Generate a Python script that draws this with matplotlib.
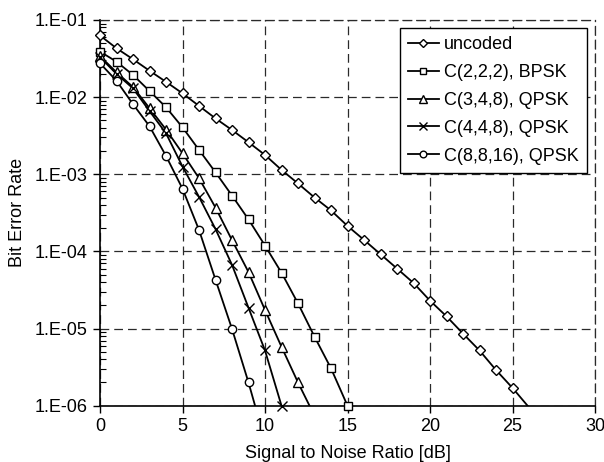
import numpy as np
import matplotlib
matplotlib.use("Agg")
import matplotlib.pyplot as plt
from matplotlib.lines import Line2D
from matplotlib.ticker import FixedLocator, FuncFormatter, NullFormatter

# ---- data ----
snr_uncoded = list(range(0, 27))
ber_uncoded = [6.3e-2, 4.3e-2, 3.1e-2, 2.2e-2, 1.58e-2, 1.12e-2, 7.7e-3, 5.3e-3,
               3.75e-3, 2.6e-3, 1.78e-3, 1.14e-3, 7.6e-4, 5.0e-4, 3.4e-4, 2.14e-4,
               1.41e-4, 9.2e-5, 6.0e-5, 3.9e-5, 2.3e-5, 1.44e-5, 8.6e-6, 5.2e-6,
               2.9e-6, 1.7e-6, 9.5e-7]

snr_c222 = list(range(0, 16))
ber_c222 = [3.9e-2, 2.88e-2, 1.94e-2, 1.2e-2, 7.4e-3, 4.06e-3, 2.07e-3, 1.06e-3,
            5.3e-4, 2.6e-4, 1.19e-4, 5.3e-5, 2.12e-5, 7.85e-6, 3.05e-6, 1.0e-6]

snr_c348 = list(range(0, 14))
ber_c348 = [3.4e-2, 2.1e-2, 1.35e-2, 7.2e-3, 3.8e-3, 1.87e-3, 8.9e-4, 3.7e-4,
            1.4e-4, 5.4e-5, 1.74e-5, 5.8e-6, 2.0e-6, 7.4e-7]

snr_c448 = list(range(0, 13))
ber_c448 = [3.3e-2, 2.0e-2, 1.3e-2, 6.6e-3, 3.4e-3, 1.26e-3, 5.1e-4, 1.95e-4,
            6.7e-5, 1.86e-5, 5.2e-6, 1.0e-6, 1.8e-7]

snr_c8816 = list(range(0, 11))
ber_c8816 = [2.75e-2, 1.63e-2, 8.1e-3, 4.2e-3, 1.73e-3, 6.5e-4, 1.9e-4, 4.3e-5,
             9.9e-6, 2.0e-6, 3.5e-7]

series_labels = ["uncoded", "C(2,2,2), BPSK", "C(3,4,8), QPSK",
                 "C(4,4,8), QPSK", "C(8,8,16), QPSK"]
x_ticks = [0, 5, 10, 15, 20, 25, 30]
y_ticks = [1e-6, 1e-5, 1e-4, 1e-3, 1e-2, 1e-1]

series = [(snr_uncoded, ber_uncoded), (snr_c222, ber_c222), (snr_c348, ber_c348),
          (snr_c448, ber_c448), (snr_c8816, ber_c8816)]
markers = ["D", "s", "^", "x", "o"]
msizes = [5.4, 6.0, 7.4, 6.5, 6.0]

FS = 13
plt.rcParams['font.family'] = ['Liberation Sans', 'DejaVu Sans']
plt.rcParams['font.size'] = FS

fig = plt.figure(figsize=(6.04, 4.62), dpi=100)
W, H = 604, 462
x0, x1, yt, yb = 100, 595, 20, 405.7
ax = fig.add_axes([x0 / W, 1 - yb / H, (x1 - x0) / W, (yb - yt) / H])

ax.set_yscale('log')
ax.set_xlim(0, 30)
ax.set_ylim(1e-6, 1e-1)

ymin = 1e-6
handles = []
for (xs, ys), m, ms, lab in zip(series, markers, msizes, series_labels):
    xs = np.asarray(xs, float)
    ys = np.asarray(ys, float)
    ax.plot(xs, ys, color='black', lw=1.3, zorder=3)
    keep = ys >= ymin * 0.999
    ax.plot(xs[keep], ys[keep], linestyle='none', marker=m, ms=ms,
            mfc='white', mec='black', mew=1.0, zorder=4, clip_on=False)
    handles.append(Line2D([], [], color='black', lw=1.3, marker=m, ms=ms * 0.8,
                          mfc='white', mec='black', mew=1.0, label=lab))

# ticks
ax.xaxis.set_major_locator(FixedLocator(x_ticks))
ax.yaxis.set_major_locator(FixedLocator(y_ticks))
minor = [k * 10.0 ** e for e in range(-6, -1) for k in range(2, 10)]
ax.yaxis.set_minor_locator(FixedLocator(minor))
ax.yaxis.set_minor_formatter(NullFormatter())
ax.yaxis.set_major_formatter(FuncFormatter(
    lambda v, p: "1.E-%02d" % int(round(-np.log10(v)))))
ax.xaxis.set_major_formatter(FuncFormatter(lambda v, p: "%d" % v))

ax.tick_params(axis='both', which='major', direction='out', length=5,
               width=1.0, color='black', labelsize=FS, pad=4)
ax.tick_params(axis='y', which='minor', direction='in', length=4, width=0.8)
ax.tick_params(axis='x', which='minor', bottom=False)

# grid
ax.grid(True, which='major', color='#2a2a2a', lw=0.9, linestyle=(0, (7, 4)))
ax.set_axisbelow(True)

for s in ['left', 'bottom']:
    ax.spines[s].set_linewidth(1.2)
    ax.spines[s].set_color('black')
for s in ['top', 'right']:
    ax.spines[s].set_linestyle((0, (7, 4)))
    ax.spines[s].set_color('#2a2a2a')
    ax.spines[s].set_linewidth(0.9)

ax.set_xlabel("Signal to Noise Ratio [dB]", fontsize=FS, labelpad=7)
ax.set_ylabel("Bit Error Rate", fontsize=FS, labelpad=6)

leg = ax.legend(handles=handles, loc='upper right',
                bbox_to_anchor=(0.984, 0.979), borderaxespad=0,
                fancybox=False, framealpha=1, edgecolor='black',
                fontsize=FS, handlelength=1.7, handletextpad=0.3,
                labelspacing=0.6, borderpad=0.45)
leg.get_frame().set_linewidth(1.0)
leg.set_zorder(10)

fig.savefig("out.png", dpi=100)
